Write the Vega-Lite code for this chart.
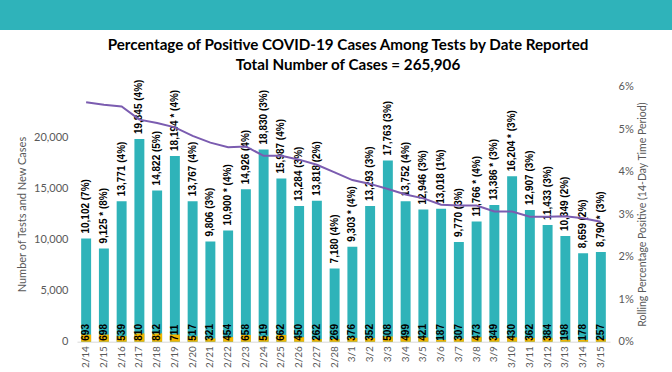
{
  "$schema": "https://vega.github.io/schema/vega-lite/v6.json",
  "padding": 0,
  "spacing": 0,
  "bounds": "flush",
  "background": "white",
  "config": {
    "view": {"stroke": null},
    "font": "Lato",
    "axis": {"grid": false, "ticks": false, "domain": false, "labelColor": "#595959", "titleColor": "#595959", "labelFont": "Lato", "titleFont": "Lato", "titleFontWeight": "normal", "labelFontSize": 11, "titleFontSize": 11}
  },
  "datasets": {
    "covid": [
      {"date": "2/14", "tests": 10102, "cases": 693, "rolling": 5.63, "label": "10,102  (7%)"},
      {"date": "2/15", "tests": 9125, "cases": 698, "rolling": 5.57, "label": "9,125 * (8%)"},
      {"date": "2/16", "tests": 13771, "cases": 539, "rolling": 5.53, "label": "13,771 (4%)"},
      {"date": "2/17", "tests": 19845, "cases": 810, "rolling": 5.22, "label": "19,845 (4%)"},
      {"date": "2/18", "tests": 14822, "cases": 812, "rolling": 5.14, "label": "14,822 (5%)"},
      {"date": "2/19", "tests": 18194, "cases": 711, "rolling": 5.04, "label": "18,194 * (4%)"},
      {"date": "2/20", "tests": 13767, "cases": 517, "rolling": 4.84, "label": "13,767 (4%)"},
      {"date": "2/21", "tests": 9806, "cases": 321, "rolling": 4.68, "label": "9,806 (3%)"},
      {"date": "2/22", "tests": 10900, "cases": 454, "rolling": 4.57, "label": "10,900 * (4%)"},
      {"date": "2/23", "tests": 14926, "cases": 658, "rolling": 4.59, "label": "14,926 (4%)"},
      {"date": "2/24", "tests": 18830, "cases": 519, "rolling": 4.37, "label": "18,830 (3%)"},
      {"date": "2/25", "tests": 15987, "cases": 662, "rolling": 4.37, "label": "15,987 (4%)"},
      {"date": "2/26", "tests": 13284, "cases": 450, "rolling": 4.28, "label": "13,284 (3%)"},
      {"date": "2/27", "tests": 13818, "cases": 262, "rolling": 4.16, "label": "13,818 (2%)"},
      {"date": "2/28", "tests": 7180, "cases": 269, "rolling": 3.98, "label": "7,180 (4%)"},
      {"date": "3/1", "tests": 9303, "cases": 376, "rolling": 3.80, "label": "9,303 * (4%)"},
      {"date": "3/2", "tests": 13293, "cases": 352, "rolling": 3.71, "label": "13,293 (3%)"},
      {"date": "3/3", "tests": 17763, "cases": 508, "rolling": 3.59, "label": "17,763 (3%)"},
      {"date": "3/4", "tests": 13752, "cases": 499, "rolling": 3.46, "label": "13,752 (4%)"},
      {"date": "3/5", "tests": 12946, "cases": 421, "rolling": 3.37, "label": "12,946 (3%)"},
      {"date": "3/6", "tests": 13018, "cases": 187, "rolling": 3.22, "label": "13,018 (1%)"},
      {"date": "3/7", "tests": 9770, "cases": 307, "rolling": 3.20, "label": "9,770 (3%)"},
      {"date": "3/8", "tests": 11766, "cases": 473, "rolling": 3.20, "label": "11,766 * (4%)"},
      {"date": "3/9", "tests": 13386, "cases": 349, "rolling": 3.06, "label": "13,386 * (3%)"},
      {"date": "3/10", "tests": 16204, "cases": 430, "rolling": 3.06, "label": "16,204 * (3%)"},
      {"date": "3/11", "tests": 12907, "cases": 362, "rolling": 2.94, "label": "12,907 (3%)"},
      {"date": "3/12", "tests": 11433, "cases": 384, "rolling": 2.94, "label": "11,433 (3%)"},
      {"date": "3/13", "tests": 10349, "cases": 198, "rolling": 2.95, "label": "10,349 (2%)"},
      {"date": "3/14", "tests": 8659, "cases": 178, "rolling": 2.90, "label": "8,659 (2%)"},
      {"date": "3/15", "tests": 8790, "cases": 257, "rolling": 2.82, "label": "8,790 * (3%)"}
    ]
  },
  "vconcat": [
    {
      "width": 672,
      "height": 30,
      "view": {"fill": "#2fb3ba", "stroke": null},
      "data": {"values": [{"t": ""}]},
      "mark": {"type": "text", "color": "white"},
      "encoding": {"text": {"field": "t"}}
    },
    {
      "spacing": 0,
      "bounds": "flush",
      "hconcat": [
        {
          "width": 77,
          "height": 342,
          "data": {"values": [{"t": ""}]},
          "mark": {"type": "text"},
          "encoding": {"text": {"field": "t"}}
        },
        {
          "width": 595,
          "height": 342,
          "data": {"name": "covid"},
          "title": {
            "text": ["Percentage of Positive COVID-19 Cases Among Tests by Date Reported", "Total Number of Cases = 265,906"],
            "font": "Lato",
            "fontSize": 15.2,
            "fontWeight": "bold",
            "color": "#000000",
            "anchor": "middle",
            "frame": "group",
            "dx": -26.5,
            "baseline": "top",
            "offset": -43,
            "lineHeight": 20
          },
          "encoding": {
            "x": {
              "field": "date",
              "type": "nominal",
              "sort": null,
              "scale": {"range": [0, 533], "paddingInner": 0.44, "paddingOuter": 0.235},
              "axis": {"title": null, "offset": -30.3, "domain": true, "domainColor": "#d9d9d9", "labelAngle": -90, "labelFontSize": 10, "labelPadding": 4}
            }
          },
          "layer": [
            {
              "mark": {"type": "bar", "color": "#2fb3b9"},
              "encoding": {
                "y": {
                  "field": "tests",
                  "type": "quantitative",
                  "scale": {"domain": [0, 25000], "range": [311.7, 56.5], "nice": false, "zero": true},
                  "axis": {"orient": "left", "values": [0, 5000, 10000, 15000, 20000], "format": ",.0f", "labelPadding": 9, "title": "Number of Tests and New Cases", "titlePadding": 6}
                }
              }
            },
            {
              "mark": {"type": "bar", "color": "#f4b400"},
              "encoding": {"y": {"field": "cases", "type": "quantitative", "scale": {"domain": [0, 25000], "range": [311.7, 56.5], "nice": false, "zero": true}, "axis": null}}
            },
            {
              "mark": {"type": "text", "angle": 270, "align": "left", "baseline": "middle", "dx": 5, "font": "Liberation Sans", "fontWeight": "bold", "fontSize": 10, "color": "#000000"},
              "encoding": {"y": {"field": "tests", "type": "quantitative", "scale": {"domain": [0, 25000], "range": [311.7, 56.5], "nice": false, "zero": true}, "axis": null}, "text": {"field": "label"}}
            },
            {
              "mark": {"type": "text", "angle": 270, "align": "left", "baseline": "middle", "dx": 1, "font": "Liberation Sans", "fontWeight": "bold", "fontSize": 10, "color": "#000000"},
              "encoding": {"y": {"datum": 0, "type": "quantitative", "scale": {"domain": [0, 25000], "range": [311.7, 56.5], "nice": false, "zero": true}, "axis": null}, "text": {"field": "cases"}}
            },
            {
              "mark": {"type": "line", "color": "#7b5cb0", "strokeWidth": 2},
              "encoding": {
                "y": {
                  "field": "rolling",
                  "type": "quantitative",
                  "scale": {"domain": [0, 6], "range": [311.7, 56.5], "nice": false},
                  "axis": {"orient": "right", "offset": -62, "values": [0, 1, 2, 3, 4, 5, 6], "labelExpr": "datum.value + '%'", "labelPadding": 8, "title": "Rolling Percentage Positive (14-Day Time Period)", "titleAngle": -90, "titleBaseline": "top", "titleFontSize": 10.5, "titlePadding": 4}
                }
              }
            }
          ],
          "resolve": {"scale": {"y": "independent"}}
        }
      ]
    }
  ]
}
